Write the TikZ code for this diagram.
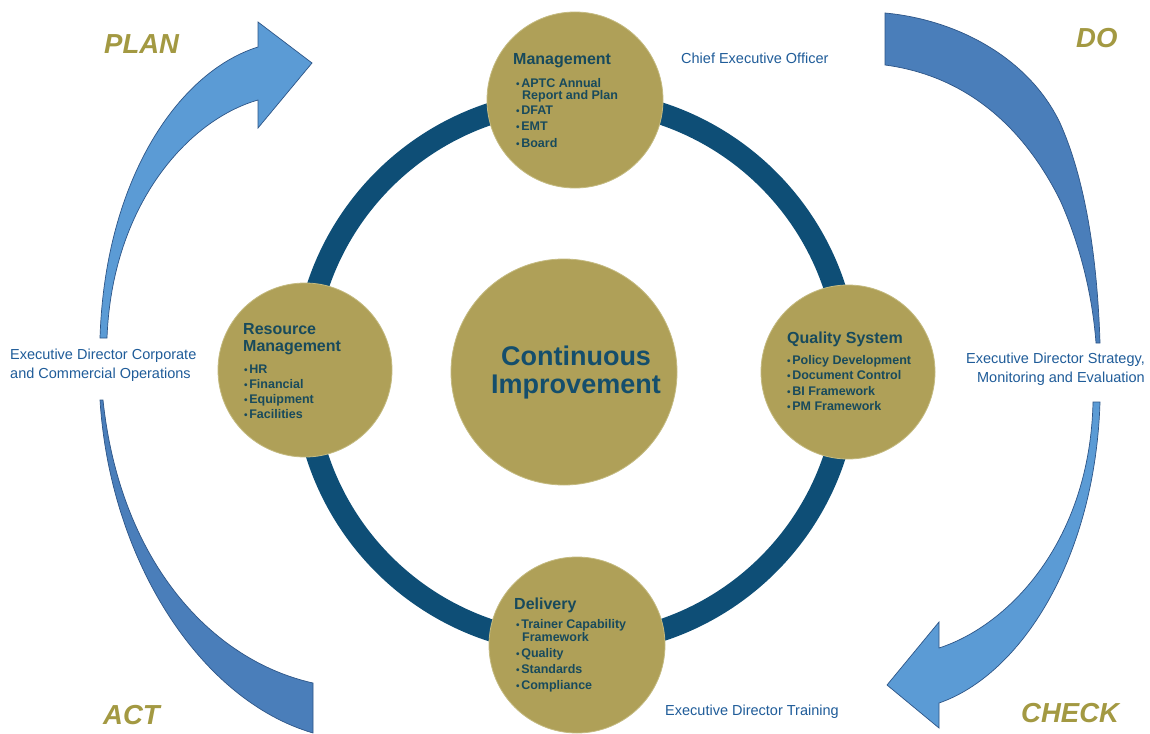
\documentclass[tikz,border=0pt]{standalone}
\usepackage{fontspec}
\setmainfont{Liberation Sans}
\definecolor{cgold}{RGB}{175,160,88}
\definecolor{cgoldedge}{RGB}{196,186,128}
\definecolor{cring}{RGB}{14,78,118}
\definecolor{ctext}{RGB}{24,74,92}
\definecolor{ccent}{RGB}{20,78,108}
\definecolor{cblue}{RGB}{31,92,153}
\definecolor{cpdca}{RGB}{163,153,66}
\definecolor{clight}{RGB}{91,155,213}
\definecolor{cdark}{RGB}{74,126,186}
\definecolor{cedge}{RGB}{45,85,135}
\newcommand{\blt}{{\fontsize{10}{10}\selectfont\textbullet}\kern1.6pt}
\begin{document}
\begin{tikzpicture}[x=1pt,y=-1pt,
  goldcirc/.style={circle, fill=cgold, draw=cgoldedge, line width=0.8pt, inner sep=0pt},
  ttl/.style={anchor=base west, inner sep=0pt, text=ctext, font=\fontsize{16}{16}\selectfont\bfseries},
  itm/.style={anchor=base west, inner sep=0pt, text=ctext, font=\fontsize{12.5}{12.5}\selectfont\bfseries},
  ctr/.style={anchor=base, inner sep=0pt, text=ccent, font=\fontsize{27}{27}\selectfont\bfseries},
  lbl/.style={inner sep=0pt, text=cblue, font=\fontsize{14.5}{14.5}\selectfont},
  pdca/.style={anchor=base west, inner sep=0pt, text=cpdca, font=\fontsize{27.5}{27.5}\selectfont\bfseries\itshape},
  lightarrow/.style={fill=clight, draw=cedge, line width=0.7pt},
  darkarrow/.style={fill=cdark, draw=cedge, line width=0.7pt}
]
\useasboundingbox (0,0) rectangle (1150,733);
\fill[white] (0,0) rectangle (1150,733);

% PDCA arrows
\path[lightarrow] (100,338) .. controls (105,180) and (178,72) .. (258,47) -- (258,22) -- (312,63) -- (258,128) -- (258,100) .. controls (188,120) and (112,205) .. (107,338) -- cycle;
\path[darkarrow] (885,13) .. controls (960,20) and (1030,60) .. (1060,123) .. controls (1090,190) and (1098,280) .. (1100,343) -- (1096,343) .. controls (1092,290) and (1078,240) .. (1060,200) .. controls (1020,120) and (960,75) .. (885,65) -- cycle;
\path[lightarrow] (1093,402) -- (1100,402) .. controls (1095,560) and (1020,675) .. (939,703) -- (939,728) -- (887,685) -- (939,622) -- (939,648) .. controls (1010,625) and (1090,540) .. (1093,402) -- cycle;
\path[darkarrow] (100,400) .. controls (110,560) and (200,700) .. (313,733) -- (313,683) .. controls (210,660) and (120,560) .. (103,400) -- cycle;

% ring
\draw[cring, line width=22pt] (576,372) circle[radius=272];

% circles
\node[goldcirc, minimum size=226pt] (centre) at (564,372) {};
\node[goldcirc, minimum size=176pt] (mgmt) at (575,100) {};
\node[goldcirc, minimum size=174pt] (qual) at (848,372) {};
\node[goldcirc, minimum size=176pt] (deliv) at (577,645) {};
\node[goldcirc, minimum size=174pt] (res) at (305,370) {};

% centre text
\node[ctr] (ci1) at (576,365) {Continuous};
\node[ctr] (ci2) at (576,393) {Improvement};

% Management
\node[ttl] (mt) at (513,65) {Management};
\node[itm] (m1) at (516,87.5) {\blt APTC Annual};
\node[itm] (m1b) at (522,100) {Report and Plan};
\node[itm] (m2) at (516,115) {\blt DFAT};
\node[itm] (m3) at (516,131) {\blt EMT};
\node[itm] (m4) at (516,147) {\blt Board};

% Resource Management
\node[ttl] (rt1) at (243,334.5) {Resource};
\node[ttl] (rt2) at (243,351.5) {Management};
\node[itm] (r1) at (244,373.5) {\blt HR};
\node[itm] (r2) at (244,388.5) {\blt Financial};
\node[itm] (r3) at (244,403.5) {\blt Equipment};
\node[itm] (r4) at (244,418.5) {\blt Facilities};

% Quality System
\node[ttl] (qt) at (787,343) {Quality System};
\node[itm] (q1) at (787,364) {\blt Policy Development};
\node[itm] (q2) at (787,379.5) {\blt Document Control};
\node[itm] (q3) at (787,395) {\blt BI Framework};
\node[itm] (q4) at (787,410.5) {\blt PM Framework};

% Delivery
\node[ttl] (dt) at (514,609) {Delivery};
\node[itm] (d1) at (516,628.5) {\blt Trainer Capability};
\node[itm] (d1b) at (522,641.5) {Framework};
\node[itm] (d2) at (516,657.5) {\blt Quality};
\node[itm] (d3) at (516,673.5) {\blt Standards};
\node[itm] (d4) at (516,689.5) {\blt Compliance};

% outer labels
\node[lbl, anchor=base west] (ceo) at (681,64) {Chief Executive Officer};
\node[lbl, anchor=base west] (edt) at (665,715) {Executive Director Training};
\node[lbl, anchor=base west] (edc1) at (10,359) {Executive Director Corporate};
\node[lbl, anchor=base west] (edc2) at (10,378) {and Commercial Operations};
\node[lbl, anchor=base east] (eds1) at (1145,363) {Executive Director Strategy,};
\node[lbl, anchor=base east] (eds2) at (1145,382) {Monitoring and Evaluation};

% PDCA labels
\node[pdca] (plan) at (104,54) {PLAN};
\node[pdca] (do) at (1076,48) {DO};
\node[pdca] (act) at (103,724) {ACT};
\node[pdca] (check) at (1021,722) {CHECK};
\end{tikzpicture}
\end{document}
